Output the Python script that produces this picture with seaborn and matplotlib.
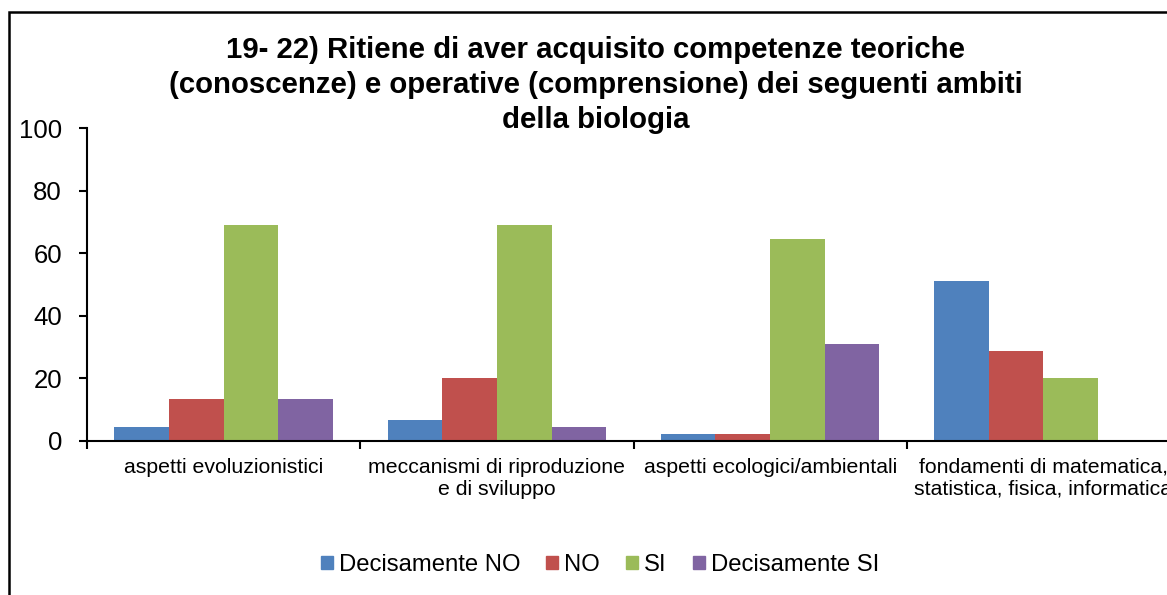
import matplotlib
matplotlib.use("Agg")
import matplotlib.pyplot as plt
import matplotlib.patches as mpatches
from matplotlib.ticker import FixedLocator
import seaborn as sns
import pandas as pd

categories = ["aspetti evoluzionistici",
              "meccanismi di riproduzione\ne di sviluppo",
              "aspetti ecologici/ambientali",
              "fondamenti di matematica,\nstatistica, fisica, informatica"]
series = ["Decisamente NO", "NO", "SI", "Decisamente SI"]
decisamente_no = [4.4, 6.7, 2.2, 51.1]
no = [13.3, 20.0, 2.2, 28.9]
si = [68.9, 68.9, 64.4, 20.0]
decisamente_si = [13.3, 4.4, 31.1, 0.0]
colors = ["#4F81BD", "#C0504D", "#9BBB59", "#8064A2"]
yticks = [0, 20, 40, 60, 80, 100]

rows = []
for s, vals in zip(series, [decisamente_no, no, si, decisamente_si]):
    for c, v in zip(categories, vals):
        rows.append({"cat": c, "serie": s, "val": v})
df = pd.DataFrame(rows)

sns.set_theme(style="white")
plt.rcParams['font.family'] = ['Liberation Sans', 'DejaVu Sans']
plt.rcParams['text.color'] = 'black'
plt.rcParams['xtick.color'] = 'black'
plt.rcParams['ytick.color'] = 'black'
plt.rcParams['axes.labelcolor'] = 'black'

fig = plt.figure(figsize=(11.67, 5.95), dpi=100)
W, H = 1167, 595
ax = fig.add_axes([87 / W, (H - 441) / H, (1180 - 87) / W, (441 - 128) / H])

sns.barplot(data=df, x="cat", y="val", hue="serie", order=categories,
            hue_order=series, palette=colors, width=0.8, ax=ax,
            edgecolor="none", linewidth=0, saturation=1, legend=False)

ax.set_xlim(-0.5, 3.5)
ax.set_ylim(0, 100)
ax.set_yticks(yticks)
ax.set_yticklabels([str(t) for t in yticks], fontsize=18.5)
ax.set_xlabel("")
ax.set_ylabel("")
ax.tick_params(axis="x", which="major", length=0, pad=12, labelsize=15.3)
ax.xaxis.set_minor_locator(FixedLocator([-0.5, 0.5, 1.5, 2.5, 3.5]))
ax.tick_params(axis="x", which="minor", length=6, width=1.5, direction="out", color="black", bottom=True)
ax.tick_params(axis="y", length=6, width=1.5, direction="out", color="black", left=True, pad=12)
for lbl in ax.get_xticklabels():
    lbl.set_multialignment("center")
for side in ["top", "right"]:
    ax.spines[side].set_visible(False)
for side in ["left", "bottom"]:
    ax.spines[side].set_color("black")
    ax.spines[side].set_linewidth(1.5)

fig.text(596 / W, 1 - 85 / H,
         "19- 22) Ritiene di aver acquisito competenze teoriche\n(conoscenze) e operative (comprensione) dei seguenti ambiti\ndella biologia",
         ha="center", va="center", fontsize=21.2, fontweight="bold", linespacing=1.3)

handles = [mpatches.Patch(color=c, label=s) for c, s in zip(colors, series)]
fig.legend(handles=handles, loc="center", bbox_to_anchor=(600 / W, 1 - 565 / H),
           ncol=4, frameon=False, fontsize=17.2, handlelength=0.5, handleheight=0.5,
           handletextpad=0.25, columnspacing=1.1)

border = mpatches.Rectangle((9 / W, -0.1), 1.2, 1 - 12 / H + 0.1, transform=fig.transFigure,
                            fill=False, edgecolor="black", linewidth=1.8)
fig.patches.append(border)

fig.savefig("out.png", dpi=100)
